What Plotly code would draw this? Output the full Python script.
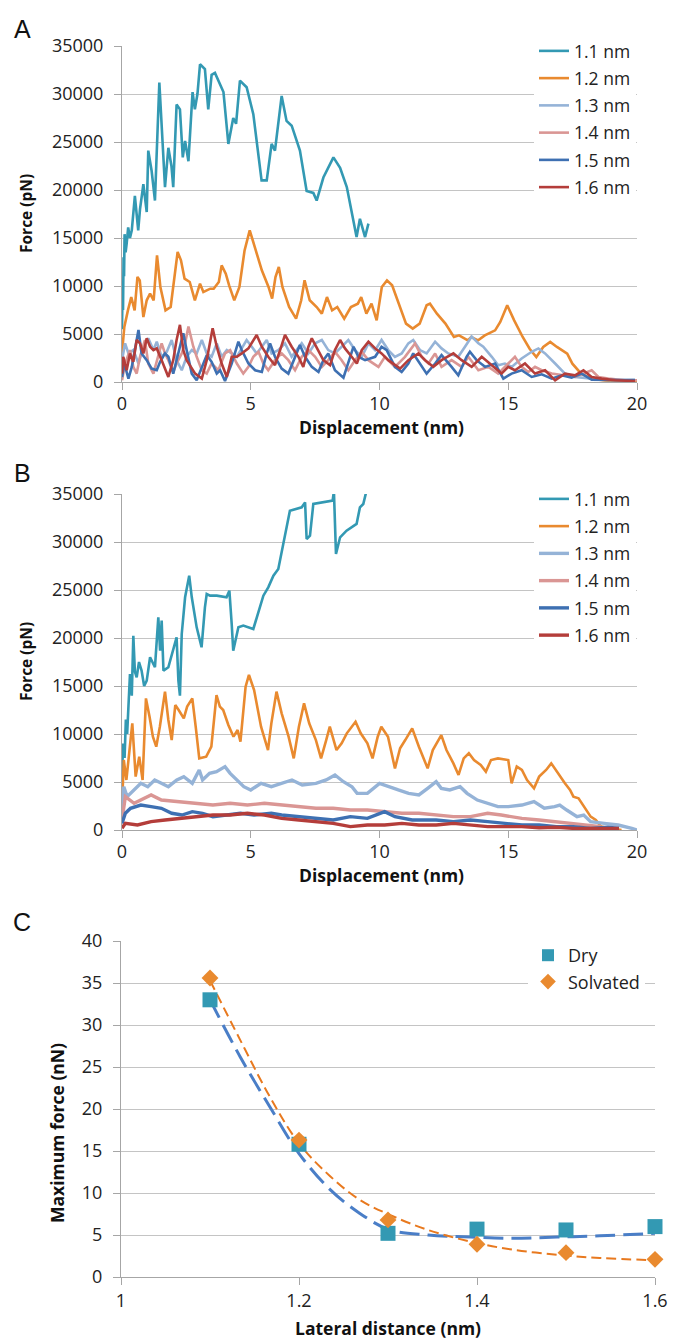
import plotly.graph_objects as go

# ---------------- Panel A data (Displacement nm, Force pN) ----------------
a11_x = [0, 0.02, 0.04, 0.06, 0.08, 0.1, 0.14, 0.18, 0.24, 0.31, 0.38, 0.50, 0.63, 0.70, 0.83, 0.96, 1.02, 1.15, 1.28, 1.45, 1.58, 1.67, 1.80, 1.92, 1.99, 2.12, 2.25, 2.36, 2.45, 2.58, 2.74, 2.83, 2.93, 3.03, 3.22, 3.35, 3.48, 3.61, 3.94, 4.13, 4.32, 4.43, 4.58, 4.84, 5.10, 5.42, 5.62, 5.81, 5.94, 6.20, 6.39, 6.59, 6.91, 7.17, 7.43, 7.56, 7.82, 8.21, 8.47, 8.73, 9.11, 9.24, 9.44, 9.57]
a11_y = [5500, 9500, 7500, 13000, 11000, 15400, 13500, 14400, 16100, 15000, 15800, 19400, 15800, 18000, 20600, 17700, 24100, 22000, 18900, 31200, 25000, 20300, 24400, 22500, 20300, 28900, 28400, 23400, 25100, 23000, 30200, 28400, 30000, 33100, 32600, 28400, 32000, 32200, 30200, 24800, 27500, 26900, 31400, 30700, 27900, 21000, 21000, 24800, 24100, 29800, 27200, 26700, 24100, 19900, 19700, 18900, 21300, 23400, 22300, 20300, 15100, 17000, 15100, 16500]

a12_x = [0, 0.03, 0.09, 0.23, 0.36, 0.49, 0.6, 0.69, 0.83, 0.96, 1.09, 1.23, 1.36, 1.49, 1.69, 1.89, 2.03, 2.16, 2.29, 2.43, 2.63, 2.83, 3.03, 3.16, 3.29, 3.43, 3.56, 3.76, 3.87, 4.03, 4.16, 4.36, 4.56, 4.76, 4.96, 5.16, 5.43, 5.69, 5.83, 5.96, 6.09, 6.23, 6.49, 6.76, 6.96, 7.09, 7.29, 7.56, 7.76, 7.96, 8.16, 8.36, 8.63, 8.89, 9.16, 9.29, 9.49, 9.69, 9.89, 10.09, 10.29, 10.49, 10.69, 11.03, 11.29, 11.56, 11.83, 11.96, 12.23, 12.56, 12.89, 13.09, 13.43, 13.56, 13.83, 14.09, 14.49, 14.69, 14.96, 15.23, 15.56, 15.83, 16.09, 16.36, 16.63, 16.89, 17.29, 17.49, 17.83, 18.23, 18.76, 19.56, 20.0]
a12_y = [3000, 4340, 5730, 7460, 8850, 7460, 10940, 10590, 6770, 8510, 9200, 8510, 13190, 9900, 7460, 7810, 10760, 13540, 12670, 10760, 10420, 8510, 10240, 9370, 9550, 9720, 9720, 10420, 12150, 11280, 10070, 8510, 9900, 13710, 15800, 14060, 11630, 9900, 8680, 10940, 11980, 9900, 7810, 6600, 8510, 10590, 8510, 7810, 7120, 8850, 7460, 7810, 6600, 7810, 8160, 8850, 7120, 8160, 6420, 9900, 10590, 10070, 8510, 6080, 5560, 6080, 7990, 8160, 7120, 6080, 4690, 4860, 4340, 4690, 4340, 4860, 5380, 6250, 7990, 6420, 4690, 3470, 2600, 3650, 4170, 3650, 2950, 1910, 870, 350, 170, 0, 0]

a13_x = [0, 0.12, 0.25, 0.44, 0.64, 0.83, 1.02, 1.22, 1.35, 1.54, 1.74, 1.93, 2.12, 2.32, 2.51, 2.71, 2.90, 3.10, 3.29, 3.48, 3.68, 3.87, 4.07, 4.26, 4.46, 4.65, 4.84, 5.04, 5.23, 5.43, 5.62, 5.81, 6.07, 6.33, 6.59, 6.78, 6.98, 7.24, 7.50, 7.76, 8.01, 8.27, 8.53, 8.79, 9.05, 9.31, 9.57, 9.83, 10.08, 10.34, 10.60, 10.86, 11.12, 11.31, 11.57, 11.83, 12.16, 12.41, 12.67, 13.06, 13.32, 13.58, 13.84, 14.03, 14.36, 14.61, 14.87, 15.13, 15.52, 15.91, 16.17, 16.43, 16.82, 17.20, 17.59, 18.11, 18.63, 19.15, 19.92]
a13_y = [2275, 4025, 2975, 3325, 1925, 3675, 4550, 3325, 4200, 2625, 3150, 4375, 2275, 1225, 2625, 3325, 2975, 4375, 2975, 2625, 4025, 2625, 3325, 2975, 2625, 3500, 4375, 3675, 2975, 3675, 4375, 2975, 3325, 4025, 2625, 3325, 4025, 2975, 4025, 4375, 3325, 2975, 3675, 4375, 3325, 2625, 4025, 3325, 4375, 3325, 2625, 2975, 4025, 4375, 3325, 2975, 4200, 3500, 2975, 2625, 3675, 4725, 4025, 3675, 2625, 1750, 1925, 1575, 2450, 3150, 3500, 2975, 1925, 875, 525, 350, 245, 175, 245]

a14_x = [0, 0.12, 0.31, 0.44, 0.57, 0.70, 0.89, 1.02, 1.22, 1.41, 1.54, 1.67, 1.80, 1.99, 2.12, 2.32, 2.45, 2.58, 2.77, 2.90, 3.10, 3.29, 3.48, 3.74, 4.00, 4.20, 4.46, 4.71, 4.91, 5.10, 5.30, 5.49, 5.68, 5.94, 6.20, 6.46, 6.72, 6.98, 7.24, 7.50, 7.76, 8.01, 8.27, 8.53, 8.79, 9.05, 9.31, 9.57, 9.96, 10.21, 10.60, 10.99, 11.38, 11.64, 11.90, 12.16, 12.41, 12.80, 13.19, 13.45, 13.84, 14.23, 14.61, 15.00, 15.26, 15.52, 15.78, 16.04, 16.30, 16.69, 17.07, 17.59, 18.24, 18.50, 18.89, 19.53, 20.0]
a14_y = [175, 1925, 3325, 1575, 875, 2625, 4375, 1925, 875, 2625, 4025, 2975, 2275, 1050, 1925, 2975, 4025, 5775, 3675, 2625, 1225, 875, 1925, 1225, 2975, 3325, 1925, 875, 1575, 2625, 3150, 1925, 1225, 2275, 2975, 2275, 1225, 2625, 3325, 2625, 1575, 2275, 3150, 2275, 1225, 2275, 3150, 2275, 1575, 2625, 1575, 2625, 4025, 2625, 1925, 2975, 1575, 2275, 1575, 2625, 1225, 1575, 875, 1925, 2625, 1575, 1050, 1575, 1225, 875, 700, 525, 1225, 525, 350, 175, 175]

a15_x = [0, 0.09, 0.25, 0.38, 0.64, 0.76, 0.96, 1.15, 1.35, 1.48, 1.67, 1.80, 1.99, 2.19, 2.38, 2.51, 2.71, 2.90, 3.10, 3.29, 3.48, 3.68, 3.81, 4.00, 4.26, 4.52, 4.65, 4.91, 5.17, 5.43, 5.62, 5.75, 5.94, 6.20, 6.46, 6.72, 6.91, 7.11, 7.37, 7.63, 7.82, 8.01, 8.27, 8.60, 8.79, 8.99, 9.18, 9.44, 9.83, 10.08, 10.28, 10.60, 10.86, 11.12, 11.31, 11.57, 11.83, 12.16, 12.41, 12.80, 13.06, 13.38, 13.51, 13.77, 14.10, 14.49, 14.81, 15.13, 15.52, 15.91, 16.30, 16.69, 17.07, 17.46, 17.85, 18.24, 18.89, 19.92]
a15_y = [525, 1925, 350, 1575, 5425, 2975, 2275, 1400, 1225, 2100, 2975, 2625, 875, 2975, 5075, 3325, 875, 175, 1575, 2800, 2100, 875, 1225, 105, 1925, 4200, 3325, 1925, 1225, 1050, 2975, 4025, 2625, 1400, 875, 2625, 3850, 2625, 1575, 1050, 2275, 2975, 1225, 455, 1925, 3675, 2625, 2275, 2625, 3675, 3325, 1575, 1050, 1925, 2975, 1925, 875, 1925, 2800, 1575, 700, 2625, 3150, 2275, 1575, 1925, 350, 875, 1225, 525, 805, 350, 700, 455, 875, 245, 245, 175]

a16_x = [0, 0.05, 0.18, 0.31, 0.44, 0.57, 0.70, 0.83, 0.96, 1.09, 1.22, 1.35, 1.54, 1.80, 1.99, 2.12, 2.25, 2.38, 2.51, 2.84, 3.10, 3.29, 3.52, 3.68, 3.87, 4.07, 4.26, 4.46, 4.65, 4.91, 5.23, 5.43, 5.68, 5.94, 6.14, 6.33, 6.59, 6.85, 7.04, 7.24, 7.37, 7.63, 7.82, 8.08, 8.27, 8.47, 8.66, 8.92, 9.12, 9.31, 9.57, 9.83, 10.08, 10.34, 10.80, 11.12, 11.51, 11.77, 12.09, 12.41, 12.87, 13.19, 13.58, 13.97, 14.29, 14.74, 15.00, 15.26, 15.65, 16.04, 16.43, 16.82, 17.20, 17.59, 17.92, 18.24, 18.63, 19.15, 19.92]
a16_y = [875, 2625, 1225, 2975, 2100, 4375, 4025, 2975, 4550, 3675, 3325, 3500, 2275, 525, 2275, 4375, 5950, 3325, 2275, 875, 350, 2275, 5600, 3675, 1925, 525, 2625, 2625, 2975, 3500, 4900, 3675, 2625, 1750, 3325, 4900, 3675, 2625, 1575, 3675, 4550, 3325, 2275, 1750, 3325, 4375, 3500, 2625, 1925, 3325, 4200, 3500, 2975, 2275, 1400, 2275, 2975, 2275, 1575, 2275, 2975, 2275, 1575, 2625, 1925, 875, 1575, 1225, 1925, 875, 1225, 175, 875, 700, 1225, 525, 350, 175, 105]

# ---------------- Panel B data ----------------
b11_x = [0, 0.05, 0.1, 0.15, 0.2, 0.25, 0.31, 0.38, 0.44, 0.50, 0.57, 0.66, 0.76, 0.86, 0.96, 1.09, 1.28, 1.41, 1.48, 1.54, 1.61, 1.80, 1.99, 2.12, 2.19, 2.25, 2.32, 2.45, 2.61, 2.71, 2.90, 3.09, 3.22, 3.29, 3.42, 3.68, 4.06, 4.17, 4.26, 4.32, 4.52, 4.71, 5.10, 5.23, 5.49, 5.68, 5.88, 6.07, 6.20, 6.33, 6.52, 6.98, 7.11, 7.17, 7.30, 7.43, 7.82, 8.18, 8.23, 8.31, 8.47, 8.72, 9.11, 9.24, 9.37, 9.48, 9.6]
b11_y = [6000, 9000, 7500, 11500, 10000, 13500, 16250, 14000, 20240, 16500, 15900, 17500, 16600, 15000, 15560, 17990, 16950, 22150, 18680, 21810, 16600, 16950, 18680, 20070, 15560, 14000, 20420, 24240, 26490, 24240, 21110, 19030, 23190, 24580, 24410, 24410, 24240, 24930, 21460, 18680, 21110, 21290, 20940, 22150, 24410, 25280, 26490, 27190, 28920, 30490, 33260, 33610, 34130, 30310, 30660, 33960, 34130, 34310, 35300, 28750, 30490, 31180, 31880, 33610, 33960, 35000, 36500]

b12_x = [0, 0.07, 0.17, 0.27, 0.4, 0.53, 0.67, 0.8, 0.93, 1.07, 1.2, 1.33, 1.47, 1.67, 1.8, 1.93, 2.07, 2.2, 2.4, 2.53, 2.73, 2.87, 3.0, 3.27, 3.47, 3.67, 3.8, 3.93, 4.13, 4.33, 4.49, 4.6, 4.8, 4.93, 5.13, 5.4, 5.67, 5.8, 6.0, 6.2, 6.47, 6.67, 6.87, 7.07, 7.27, 7.53, 7.73, 7.93, 8.07, 8.33, 8.53, 8.73, 9.07, 9.27, 9.53, 9.73, 9.93, 10.07, 10.33, 10.6, 10.8, 11.0, 11.27, 11.53, 11.87, 12.07, 12.4, 12.6, 12.87, 13.07, 13.27, 13.47, 13.67, 13.93, 14.13, 14.33, 14.6, 15.0, 15.13, 15.33, 15.53, 15.73, 16.0, 16.2, 16.47, 16.67, 16.93, 17.2, 17.4, 17.53, 17.73, 17.93, 18.2, 18.4, 18.6, 18.87, 19.4]
b12_y = [2430, 7290, 5210, 7640, 11110, 5560, 7640, 5210, 13710, 11800, 9720, 8680, 10760, 14410, 11460, 9370, 13020, 12500, 11630, 12850, 13710, 10590, 7460, 7640, 8680, 14060, 12850, 12500, 10940, 9720, 10420, 9200, 14930, 16150, 14580, 10760, 8330, 11110, 14410, 12150, 9720, 7460, 10760, 13190, 11110, 9370, 7460, 9370, 10760, 8330, 9030, 10070, 11280, 10070, 9030, 7460, 9720, 10760, 9720, 6420, 8510, 9370, 10590, 8680, 6420, 8330, 9890, 8330, 6940, 5730, 7460, 7990, 7290, 6770, 6080, 7290, 7460, 7290, 4860, 6600, 6250, 5210, 4340, 5560, 6250, 6940, 5900, 4860, 4170, 3470, 3300, 2430, 1390, 1040, 350, 200, 0]

b13_x = [0, 0.07, 0.2, 0.47, 0.73, 1.0, 1.27, 1.53, 1.8, 2.13, 2.4, 2.73, 3.0, 3.13, 3.4, 3.67, 4.0, 4.2, 4.47, 4.73, 5.0, 5.4, 5.8, 6.2, 6.6, 7.0, 7.53, 7.93, 8.27, 8.6, 8.93, 9.13, 9.53, 10.0, 10.33, 10.73, 11.13, 11.53, 11.87, 12.2, 12.4, 12.73, 13.13, 13.4, 13.8, 14.2, 14.6, 15.0, 15.53, 16.0, 16.4, 16.8, 17.0, 17.27, 17.67, 17.93, 18.2, 18.73, 19.27, 19.8, 20.0]
b13_y = [1740, 4510, 3470, 4170, 4860, 4510, 5210, 4860, 4510, 5210, 5560, 4860, 6250, 5210, 5900, 6080, 6600, 5900, 5210, 4510, 4170, 4860, 4510, 4860, 5210, 4690, 4860, 5210, 5730, 5030, 4510, 3820, 3820, 4860, 4510, 4170, 3820, 3650, 4340, 5030, 4340, 4170, 4510, 3820, 3120, 2780, 2430, 2430, 2600, 2950, 2260, 2430, 2600, 2080, 1390, 1560, 870, 690, 520, 170, 0]

b14_x = [0, 0.13, 0.47, 0.73, 1.13, 1.53, 2.2, 2.87, 3.53, 4.2, 4.87, 5.53, 6.2, 6.87, 7.53, 8.2, 8.87, 9.53, 10.2, 10.87, 11.53, 12.2, 12.87, 13.53, 14.2, 14.73, 15.53, 16.2, 16.87, 17.53, 18.2, 18.6]
b14_y = [1040, 3470, 2780, 3120, 3650, 3120, 2950, 2780, 2600, 2780, 2600, 2780, 2600, 2430, 2260, 2260, 2080, 2080, 1910, 1740, 1740, 1560, 1390, 1390, 1740, 1560, 1210, 1040, 870, 690, 520, 350]

b15_x = [0, 0.13, 0.33, 0.73, 1.13, 1.53, 1.93, 2.33, 2.73, 3.13, 3.53, 4.07, 4.6, 5.13, 5.8, 6.2, 6.87, 7.53, 8.2, 8.87, 9.53, 10.2, 10.6, 11.27, 12.2, 12.87, 13.53, 14.2, 14.87, 15.53, 16.2, 16.87, 17.53, 18.2, 18.87, 19.3]
b15_y = [690, 1740, 2260, 2600, 2430, 2260, 1740, 1560, 1910, 1740, 1390, 1560, 1740, 1560, 1740, 1560, 1390, 1210, 1040, 1390, 1210, 1910, 1390, 1040, 1040, 870, 1040, 870, 690, 520, 520, 350, 350, 170, 280, 170]

b16_x = [0, 0.13, 0.6, 1.13, 1.67, 2.2, 2.87, 3.53, 4.2, 4.87, 5.53, 6.2, 6.87, 7.53, 8.2, 8.87, 9.53, 10.2, 10.87, 11.53, 12.2, 12.87, 13.53, 14.2, 14.87, 15.53, 16.2, 16.87, 17.53, 18.2, 18.87, 19.3]
b16_y = [170, 690, 520, 870, 1040, 1210, 1390, 1560, 1560, 1740, 1560, 1210, 1040, 870, 690, 350, 520, 520, 690, 520, 520, 690, 520, 350, 350, 350, 240, 280, 170, 170, 170, 170]

# ---------------- Panel C data (Lateral distance nm, Maximum force nN) ----------------
c_x = [1.1, 1.2, 1.3, 1.4, 1.5, 1.6]
c_dry = [33.0, 15.8, 5.2, 5.7, 5.6, 6.0]
c_solv = [35.6, 16.3, 6.8, 3.9, 2.9, 2.1]
trend_x = [1.1, 1.134, 1.167, 1.2, 1.235, 1.268, 1.302, 1.345, 1.393, 1.44, 1.49, 1.538, 1.6]
trend_dry = [33.0, 26.2, 20.3, 14.7, 10.4, 7.6, 5.6, 5.0, 4.75, 4.6, 4.75, 4.9, 5.2]
trend_solv = [35.3, 28.2, 21.5, 15.9, 12.0, 9.2, 7.4, 5.6, 4.2, 3.25, 2.65, 2.26, 2.0]

labels = ["1.1 nm", "1.2 nm", "1.3 nm", "1.4 nm", "1.5 nm", "1.6 nm"]
colors = ["#3399B3", "#E98A2F", "#95B3D7", "#DA9694", "#3E70B2", "#B43D3A"]

W, H = 674, 1340
def px(x): return x / W
def py(y): return 1 - y / H

FONT = "Open Sans"
fig = go.Figure()

series_a = [(a11_x, a11_y), (a12_x, a12_y), (a13_x, a13_y), (a14_x, a14_y), (a15_x, a15_y), (a16_x, a16_y)]
series_b = [(b11_x, b11_y), (b12_x, b12_y), (b13_x, b13_y), (b14_x, b14_y), (b15_x, b15_y), (b16_x, b16_y)]

for i, (xs, ys) in enumerate(series_a):
    fig.add_trace(go.Scatter(x=xs, y=ys, mode="lines", name=labels[i],
                             line=dict(color=colors[i], width=2.6),
                             xaxis="x", yaxis="y", legend="legend", legendgroup="a%d" % i))
for i, (xs, ys) in enumerate(series_b):
    fig.add_trace(go.Scatter(x=xs, y=ys, mode="lines", name=labels[i],
                             line=dict(color=colors[i], width=3.4 if i >= 2 else 2.6),
                             xaxis="x2", yaxis="y2", legend="legend2", legendgroup="b%d" % i))

fig.add_trace(go.Scatter(x=trend_x, y=trend_dry, mode="lines", showlegend=False,
                         line=dict(color="#4A7EC7", width=3, dash="20px,8px", shape="spline"),
                         xaxis="x3", yaxis="y3"))
fig.add_trace(go.Scatter(x=trend_x, y=trend_solv, mode="lines", showlegend=False,
                         line=dict(color="#E8791F", width=2, dash="10px,5px", shape="spline"),
                         xaxis="x3", yaxis="y3"))
fig.add_trace(go.Scatter(x=c_x, y=c_dry, mode="markers", name="Dry", cliponaxis=False,
                         marker=dict(symbol="square", size=15, color="#3399B3"),
                         xaxis="x3", yaxis="y3", legend="legend3"))
fig.add_trace(go.Scatter(x=c_x, y=c_solv, mode="markers", name="Solvated", cliponaxis=False,
                         marker=dict(symbol="diamond", size=13, color="#E98A2F"),
                         xaxis="x3", yaxis="y3", legend="legend3"))

tickfont = dict(family=FONT, size=18, color="#222222")
common = dict(showgrid=False, zeroline=False, showline=True, linecolor="#A6A6A6", linewidth=1,
              ticks="outside", ticklen=7, tickcolor="#A6A6A6", tickfont=tickfont,
              ticklabelstandoff=-2, automargin=False, fixedrange=True)
ycommon = dict(showgrid=True, gridcolor="#C4C4C4", gridwidth=1, zeroline=False, showline=True,
               linecolor="#A6A6A6", linewidth=1, ticks="outside", ticklen=7, tickcolor="#A6A6A6",
               tickfont=tickfont, ticklabelstandoff=7, automargin=False, fixedrange=True,
               tickformat="d")
common3 = dict(common)
common3["ticklabelstandoff"] = 0

fig.update_layout(
    width=W, height=H, margin=dict(l=0, r=0, t=0, b=0, autoexpand=False),
    paper_bgcolor="white", plot_bgcolor="white",
    font=dict(family=FONT, color="#222222"),
    xaxis=dict(domain=[px(122), px(637)], range=[0, 20], dtick=5, anchor="y", **common),
    yaxis=dict(domain=[py(382), py(46)], range=[0, 35000], dtick=5000, anchor="x", **ycommon),
    xaxis2=dict(domain=[px(122), px(637)], range=[0, 20], dtick=5, anchor="y2", **common),
    yaxis2=dict(domain=[py(830), py(494)], range=[0, 35000], dtick=5000, anchor="x2", **ycommon),
    xaxis3=dict(domain=[px(121), px(655)], range=[1, 1.6], dtick=0.2, anchor="y3", **common3),
    yaxis3=dict(domain=[py(1277), py(941)], range=[0, 40], dtick=5, anchor="x3", **ycommon),
    legend=dict(x=px(534), y=py(33), xanchor="left", yanchor="top", bgcolor="white",
                font=dict(family=FONT, size=17.5, color="#222222"), tracegroupgap=1.5),
    legend2=dict(x=px(534), y=py(481), xanchor="left", yanchor="top", bgcolor="white",
                 font=dict(family=FONT, size=17.5, color="#222222"), tracegroupgap=1.5),
    legend3=dict(x=px(528), y=py(937), xanchor="left", yanchor="top", bgcolor="white",
                 font=dict(family=FONT, size=18, color="#222222"), itemsizing="constant"),
    showlegend=True,
)

ann = []
for t, x, y in [("A", 22, 29), ("B", 22, 473), ("C", 22, 922)]:
    ann.append(dict(text=t, x=px(x), y=py(y), xref="paper", yref="paper", showarrow=False,
                    xanchor="center", yanchor="middle",
                    font=dict(family="Liberation Sans", size=25, color="#111111")))
for t, x, y, ang, sz in [("Force (pN)", 26, 214, -90, 15.5), ("Force (pN)", 26, 662, -90, 15.5),
                         ("Displacement (nm)", 381, 427, 0, 17.5), ("Displacement (nm)", 381, 875, 0, 17.5),
                         ("Maximum force (nN)", 57, 1133, -90, 17.5), ("Lateral distance (nm)", 388, 1328, 0, 17.5)]:
    ann.append(dict(text="<b>%s</b>" % t, x=px(x), y=py(y), xref="paper", yref="paper", showarrow=False,
                    xanchor="center", yanchor="middle",
                    textangle=ang, font=dict(family=FONT, size=sz, color="#111111")))
fig.update_layout(annotations=ann)

fig.write_html("out.html", config={"displayModeBar": False},
               post_script="document.body.style.margin='0';document.body.style.overflow='hidden';")
